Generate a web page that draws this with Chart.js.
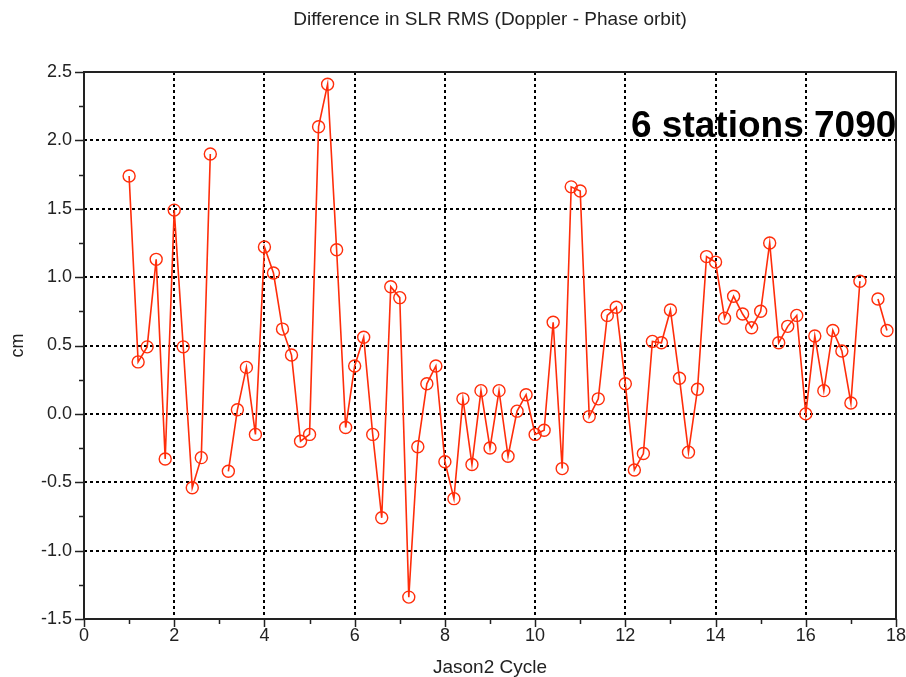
<!DOCTYPE html>
<html>
<head>
<meta charset="utf-8">
<script src="https://cdn.jsdelivr.net/npm/chart.js@4/dist/chart.umd.min.js"></script>
<style>
  html, body { margin: 0; padding: 0; background: #ffffff; }
  #wrap { width: 906px; height: 677px; }
</style>
</head>
<body>
<div id="wrap"><canvas id="c" width="906" height="677"></canvas></div>
<script>
// ---- data ----
const cycles = [
  1.0, 1.2, 1.4, 1.6, 1.8, 2.0, 2.2, 2.4, 2.6, 2.8,
  3.0, 3.2, 3.4, 3.6, 3.8, 4.0, 4.2, 4.4, 4.6, 4.8,
  5.0, 5.2, 5.4, 5.6, 5.8, 6.0, 6.2, 6.4, 6.6, 6.8,
  7.0, 7.2, 7.4, 7.6, 7.8, 8.0, 8.2, 8.4, 8.6, 8.8,
  9.0, 9.2, 9.4, 9.6, 9.8, 10.0, 10.2, 10.4, 10.6, 10.8,
  11.0, 11.2, 11.4, 11.6, 11.8, 12.0, 12.2, 12.4, 12.6, 12.8,
  13.0, 13.2, 13.4, 13.6, 13.8, 14.0, 14.2, 14.4, 14.6, 14.8,
  15.0, 15.2, 15.4, 15.6, 15.8, 16.0, 16.2, 16.4, 16.6, 16.8,
  17.0, 17.2, 17.4, 17.6, 17.8
];
const rmsDiff = [
  1.74, 0.38, 0.49, 1.13, -0.33, 1.49, 0.49, -0.54, -0.32, 1.90,
  null, -0.42, 0.03, 0.34, -0.15, 1.22, 1.03, 0.62, 0.43, -0.20,
  -0.15, 2.10, 2.41, 1.20, -0.10, 0.35, 0.56, -0.15, -0.76, 0.93,
  0.85, -1.34, -0.24, 0.22, 0.35, -0.35, -0.62, 0.11, -0.37, 0.17,
  -0.25, 0.17, -0.31, 0.02, 0.14, -0.15, -0.12, 0.67, -0.40, 1.66,
  1.63, -0.02, 0.11, 0.72, 0.78, 0.22, -0.41, -0.29, 0.53, 0.52,
  0.76, 0.26, -0.28, 0.18, 1.15, 1.11, 0.70, 0.86, 0.73, 0.63,
  0.75, 1.25, 0.52, 0.64, 0.72, 0.00, 0.57, 0.17, 0.61, 0.46,
  0.08, 0.97, null, 0.84, 0.61
];
const xRange = [0, 18];
const yRange = [-1.5, 2.5];
const titleText = 'Difference in SLR RMS (Doppler - Phase orbit)';
const xTitle = 'Jason2 Cycle';
const yTitle = 'cm';
const annotationText = '6 stations 7090';

// ---- drawing ----
const FONT = "'Liberation Sans', Arial, sans-serif";
const INK = '#222222';
const RED = '#ff2d0a';

const points = cycles.map((c, i) => ({ x: c, y: rmsDiff[i] }));

const framePlugin = {
  id: 'frame',
  afterDraw(chart) {
    const { ctx, chartArea: a, scales } = chart;
    const xs = scales.x, ys = scales.y;
    ctx.save();
    ctx.strokeStyle = INK;
    ctx.setLineDash([]);
    const xt = xs.ticks.map(t => t.value);
    ctx.beginPath();
    xt.forEach((v, i) => {
      const px = Math.round(xs.getPixelForValue(v)) + 0.5;
      ctx.moveTo(px, a.bottom); ctx.lineTo(px, a.bottom + 8);
      if (i < xt.length - 1) {
        const m = Math.round(xs.getPixelForValue((v + xt[i + 1]) / 2)) + 0.5;
        ctx.moveTo(m, a.bottom); ctx.lineTo(m, a.bottom + 5);
      }
    });
    const yt = ys.ticks.map(t => t.value);
    yt.forEach((v, i) => {
      const py = Math.round(ys.getPixelForValue(v)) + 0.5;
      ctx.moveTo(a.left, py); ctx.lineTo(a.left - 9, py);
      if (i < yt.length - 1) {
        const m = Math.round(ys.getPixelForValue((v + yt[i + 1]) / 2)) + 0.5;
        ctx.moveTo(a.left, m); ctx.lineTo(a.left - 5, m);
      }
    });
    ctx.lineWidth = 1.5;
    ctx.stroke();
    ctx.lineWidth = 2;
    ctx.strokeRect(a.left, a.top, a.right - a.left, a.bottom - a.top);
    ctx.fillStyle = '#000000';
    ctx.font = "bold 37px 'Liberation Sans', Arial, sans-serif";
    ctx.textAlign = 'left';
    ctx.textBaseline = 'alphabetic';
    ctx.fillText(annotationText, 631, 137);
    ctx.restore();
  }
};

new Chart(document.getElementById('c'), {
  type: 'line',
  data: {
    datasets: [{
      data: points,
      borderColor: RED,
      borderWidth: 1.6,
      tension: 0,
      spanGaps: false,
      pointRadius: 6,
      pointHoverRadius: 6,
      pointBorderWidth: 1.4,
      pointBorderColor: RED,
      pointBackgroundColor: 'rgba(0,0,0,0)',
      fill: false
    }]
  },
  options: {
    responsive: false,
    animation: false,
    events: [],
    layout: { padding: { left: 0, right: 10, top: 0, bottom: 0 } },
    plugins: {
      legend: { display: false },
      tooltip: { enabled: false },
      title: {
        display: true,
        fullSize: false,
        text: titleText,
        color: INK,
        font: { family: FONT, size: 19, weight: 'normal', lineHeight: 1 },
        padding: { top: 10, bottom: 43 }
      }
    },
    scales: {
      x: {
        type: 'linear',
        min: xRange[0], max: xRange[1],
        ticks: { stepSize: 2, color: INK, padding: 6, font: { family: FONT, size: 18 }, maxRotation: 0 },
        grid: { color: '#000000', lineWidth: 2, drawTicks: false },
        border: { display: false, dash: [3, 3] },
        title: { display: true, text: xTitle, color: INK, font: { family: FONT, size: 19, lineHeight: 1 }, padding: { top: 0, bottom: 0 } },
        afterFit(s) { s.height = 58; s.paddingLeft = 0; s.paddingRight = 0; }
      },
      y: {
        type: 'linear',
        min: yRange[0], max: yRange[1],
        ticks: { stepSize: 0.5, color: INK, padding: 12, font: { family: FONT, size: 18 },
                 callback: v => Number(v).toFixed(1) },
        grid: { color: '#000000', lineWidth: 2, drawTicks: false },
        border: { display: false, dash: [3, 3] },
        title: { display: true, text: yTitle, color: INK, font: { family: FONT, size: 18, lineHeight: 1 }, padding: { top: 9, bottom: 0 } },
        afterFit(s) { s.width = 84; s.paddingTop = 0; s.paddingBottom = 0; }
      }
    }
  },
  plugins: [framePlugin]
});
</script>
</body>
</html>
